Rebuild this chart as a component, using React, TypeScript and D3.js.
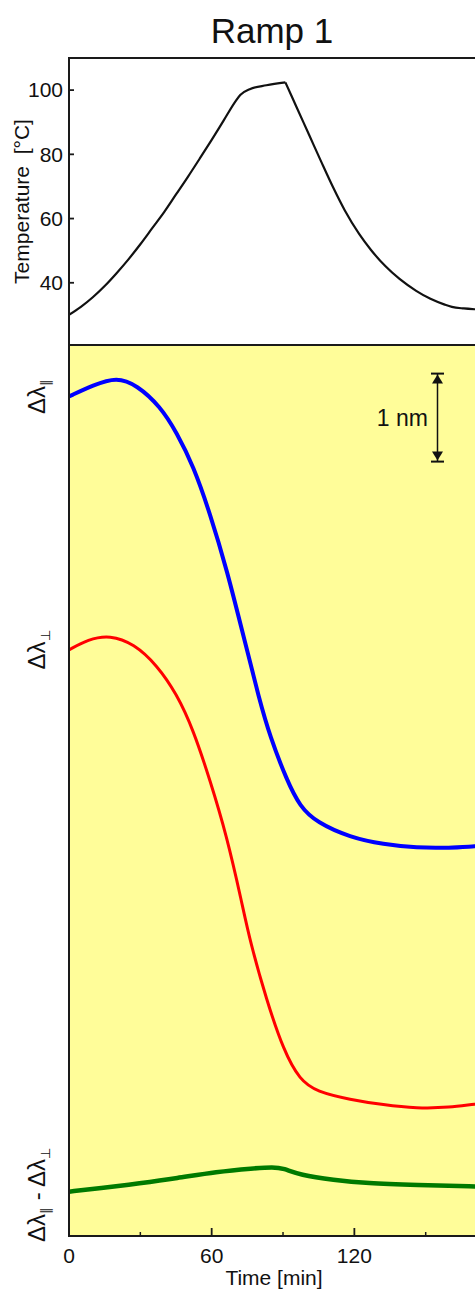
import * as d3 from "d3";

// Temperature ramp (top panel): heating and cooling legs
const heatTime = [0, 5, 10, 15, 20, 25, 30, 35, 40, 45, 50, 55, 60, 65, 70, 72, 76, 83, 91];
const heatValue = [30, 32.5, 35.5, 39, 43, 47.3, 52, 57, 62, 67.5, 73, 78.7, 84.5, 90.5, 96.5, 98.5, 100.3, 101.5, 102.4];
const coolTime = [91, 96, 101, 106, 111, 116, 122, 127, 133, 139, 146, 152, 158, 161, 166, 172, 180];
const coolValue = [102.4, 94.2, 86, 77.8, 69.8, 62.5, 55.2, 50.2, 45.2, 41.2, 37.5, 35, 33.2, 32.5, 32, 31.7, 31.4];

// wavelength shifts (lower panel), nm, offset for display
const parTime = [0, 10.2, 20.1, 28.5, 38.3, 45.3, 52.3, 59.3, 66.3, 74, 80, 84.6, 91.6, 97.1, 104.2, 118.2, 132.2, 146.2, 160.2, 170.7, 180];
const parValue = [9.54, 9.67, 9.76, 9.67, 9.43, 9.13, 8.75, 8.21, 7.58, 6.75, 6.1, 5.67, 5.18, 4.88, 4.7, 4.53, 4.45, 4.41, 4.41, 4.43, 4.44];

const perpTime = [0, 8, 17.2, 27.3, 36.9, 45.3, 52.3, 59.3, 66.3, 72.6, 76.1, 83.1, 90.2, 97.1, 104.2, 118.2, 132.2, 146.2, 160.2, 170.7, 180];
const perpValue = [6.66, 6.78, 6.83, 6.73, 6.49, 6.16, 5.75, 5.18, 4.55, 3.8, 3.35, 2.68, 2.11, 1.77, 1.64, 1.55, 1.49, 1.45, 1.46, 1.5, 1.52];

const diffTime = [0, 12.9, 29.9, 45.3, 62.1, 77.5, 86, 90.2, 97.1, 111.2, 125.2, 146.2, 170.7, 180];
const diffValue = [0.504, 0.542, 0.599, 0.656, 0.731, 0.769, 0.785, 0.769, 0.693, 0.636, 0.599, 0.58, 0.561, 0.56];

const timeTicks = [0, 60, 120];
const timeMinor = [30, 90, 150];
const tempTicks = [40, 60, 80, 100];

const FONT = "'Liberation Sans', Arial, Helvetica, sans-serif";

export default function App() {
  const width = 475;
  const height = 1293;
  const left = 69;
  const topY = 58;
  const midY = 345;
  const bottomY = 1236;

  const x = d3.scaleLinear().domain([0, 180]).range([left, left + 2.378 * 180]);
  const yT = d3.scaleLinear().domain([20, 110]).range([347, topY]);
  // 1 nm = 88 px
  const yL = d3.scaleLinear().domain([0, (bottomY - midY) / 88]).range([bottomY, midY]);

  const tLine = (ts: number[]) =>
    d3
      .line<number>()
      .x((_, i) => x(ts[i]))
      .y((d) => yT(d))
      .curve(d3.curveMonotoneX);

  const mk = (ts: number[]) =>
    d3
      .line<number>()
      .x((_, i) => x(ts[i]))
      .y((d) => yL(d))
      .curve(d3.curveBasis);

  const frame = "#1a1a1a";
  const barX = 437.5;
  const barTop = yL(9.8);
  const barBot = yL(8.8);

  return (
    <svg
      width={width}
      height={height}
      style={{ position: "absolute", left: 0, top: 0, background: "#fff" }}
      fontFamily={FONT}
    >
      <defs>
        <clipPath id="plot">
          <rect x={left} y={topY} width={width} height={bottomY - topY} />
        </clipPath>
      </defs>

      <text x={272} y={43} fontSize={35} textAnchor="middle" fill="#111">
        Ramp 1
      </text>

      {/* lower panel background */}
      <rect x={left} y={midY} width={width} height={bottomY - midY} fill="#FFFD99" />

      {/* top panel */}
      <g fill="none" stroke="#111" strokeWidth={2.2} strokeLinejoin="round" clipPath="url(#plot)">
        <path d={tLine(heatTime)(heatValue) || ""} />
        <path d={tLine(coolTime)(coolValue) || ""} />
      </g>

      {tempTicks.map((t) => (
        <g key={t}>
          <line x1={left} x2={left + 5} y1={yT(t)} y2={yT(t)} stroke={frame} strokeWidth={1.8} />
          <text x={63} y={yT(t)} dy="0.35em" fontSize={21} textAnchor="end" fill="#111">
            {t}
          </text>
        </g>
      ))}
      <text
        transform={`translate(29,${(topY + midY) / 2}) rotate(-90)`}
        fontSize={21}
        textAnchor="middle"
        fill="#111"
        style={{ whiteSpace: "pre" }}
      >
        {"Temperature  [°C]"}
      </text>

      {/* lower panel curves */}
      <g clipPath="url(#plot)" fill="none" strokeLinejoin="round">
        <path d={mk(diffTime)(diffValue) || ""} stroke="#007A00" strokeWidth={4.5} />
        <path d={mk(perpTime)(perpValue) || ""} stroke="#FF0000" strokeWidth={3} />
        <path d={mk(parTime)(parValue) || ""} stroke="#0000FF" strokeWidth={4} />
      </g>

      {/* scale bar */}
      <g stroke="#111" fill="#111">
        <line x1={barX} x2={barX} y1={barTop} y2={barBot} strokeWidth={1.5} />
        <line x1={barX - 6.5} x2={barX + 6.5} y1={barTop} y2={barTop} strokeWidth={2} />
        <line x1={barX - 6.5} x2={barX + 6.5} y1={barBot} y2={barBot} strokeWidth={2} />
        <path d={`M${barX},${barTop + 1} L${barX - 5.5},${barTop + 10} L${barX + 5.5},${barTop + 10} Z`} stroke="none" />
        <path d={`M${barX},${barBot - 1} L${barX - 5.5},${barBot - 10} L${barX + 5.5},${barBot - 10} Z`} stroke="none" />
      </g>
      <text x={428} y={(barTop + barBot) / 2} dy="0.35em" fontSize={23} textAnchor="end" fill="#111">
        1 nm
      </text>

      {/* lower panel labels */}
      <g fontSize={24} fill="#111">
        <text transform={`translate(45,${yL(parValue[0])}) rotate(-90)`} textAnchor="middle">
          Δλ<tspan fontSize={13} dy={5}>∥</tspan>
        </text>
        <text transform={`translate(45,${yL(perpValue[0])}) rotate(-90)`} textAnchor="middle">
          Δλ<tspan fontSize={13} dy={5}>⊥</tspan>
        </text>
        <text transform={`translate(45,1195) rotate(-90)`} textAnchor="middle">
          Δλ<tspan fontSize={13} dy={5}>∥</tspan>
          <tspan dy={-5}> - Δλ</tspan>
          <tspan fontSize={13} dy={5}>⊥</tspan>
        </text>
      </g>

      {/* frame */}
      <g stroke={frame} strokeWidth={2} fill="none">
        <line x1={left} x2={width} y1={topY} y2={topY} />
        <line x1={left} x2={width} y1={midY} y2={midY} />
        <line x1={left} x2={width} y1={bottomY} y2={bottomY} />
        <line x1={left} x2={left} y1={topY - 1} y2={bottomY + 1} />
      </g>

      {/* x axis */}
      {timeTicks.map((t) => (
        <g key={t}>
          <line x1={x(t)} x2={x(t)} y1={bottomY} y2={bottomY - 8} stroke={frame} strokeWidth={1.8} />
          <text x={x(t)} y={1263} fontSize={21} textAnchor="middle" fill="#111">
            {t}
          </text>
        </g>
      ))}
      {timeMinor.map((t) => (
        <line key={t} x1={x(t)} x2={x(t)} y1={bottomY} y2={bottomY - 4} stroke={frame} strokeWidth={1.5} />
      ))}
      <text x={274} y={1285} fontSize={21} textAnchor="middle" fill="#111">
        Time [min]
      </text>
    </svg>
  );
}
